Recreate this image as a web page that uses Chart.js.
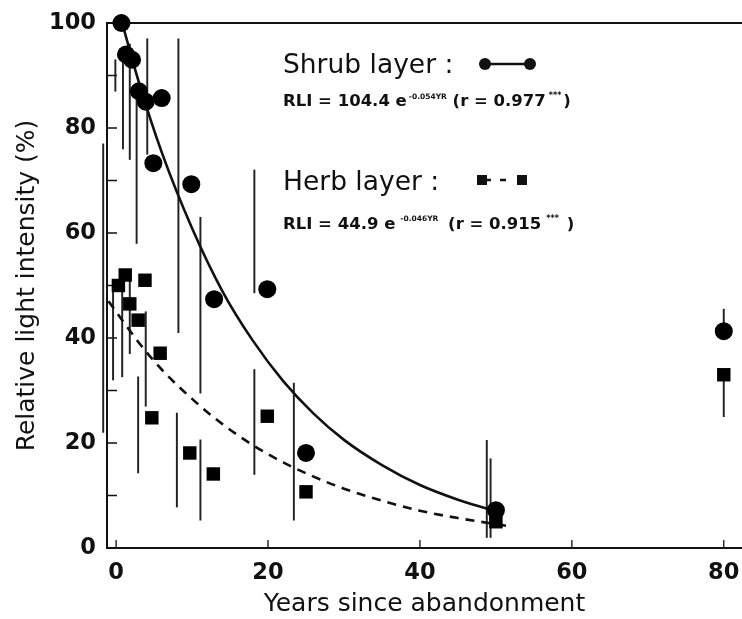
<!DOCTYPE html>
<html>
<head>
<meta charset="utf-8">
<script src="https://cdn.jsdelivr.net/npm/chart.js@4.4.1/dist/chart.umd.min.js"></script>
<style>
  html, body { margin: 0; padding: 0; background: #fff; }
</style>
</head>
<body>
<canvas id="chart" width="742" height="619"></canvas>
<script>
const shrubYears = [0.7, 1.3, 2.1, 3.0, 3.9, 4.9, 6.0, 9.9, 12.9, 19.9, 25, 50, 80];
const shrubRLI = [100, 94, 93, 87, 85, 73.3, 85.7, 69.3, 47.4, 49.3, 18.1, 7.2, 41.3];
const herbYears = [0.3, 1.2, 1.8, 2.9, 3.8, 4.7, 5.8, 9.7, 12.8, 19.9, 25, 50, 80];
const herbRLI = [50, 52, 46.5, 43.4, 51, 24.8, 37.1, 18.1, 14.1, 25.1, 10.7, 5, 33];

// fitted exponential curves
const shrubFitYears = [0.7, 3, 6, 10, 14, 18, 22, 26, 30, 35, 40, 45, 49];
const shrubFitRLI = [100.5, 88.7, 75.4, 60.9, 48.9, 39.5, 31.8, 25.6, 20.6, 15.8, 12.0, 9.2, 7.4];
const herbFitYears = [-1, 3, 6, 10, 14, 18, 22, 26, 30, 35, 40, 45, 52];
const herbFitRLI = [47.0, 39.1, 34.0, 28.4, 23.6, 19.6, 16.3, 13.6, 11.3, 9.0, 7.1, 5.7, 4.1];

// vertical range bars as they appear in the figure
const errYears = [-1.7, -0.1, 0.9, 1.8, 2.7, 4.1, 8.2, 11.1, 18.2, 23.4, 48.8, 49.3, 80, 80,
                  -0.4, 0.8, 1.8, 2.9, 3.9, 8.0, 11.1, 18.2];
const errLow = [22, 87, 76, 74, 58, 75, 41, 29.5, 48.6, 5.3, 2, 2, 41.3, 25,
                32, 32.6, 37, 14.3, 27, 7.8, 5.3, 14];
const errHigh = [77, 93, 95, 96, 86, 97, 97, 63, 72, 31.4, 20.5, 17, 45.5, 33,
                 51, 51, 51, 32.6, 45, 25.7, 20.6, 34];

const xTitle = 'Years since abandonment';
const yTitle = 'Relative light intensity (%)';

const toXY = (xs, ys) => xs.map((x, i) => ({ x, y: ys[i] }));

const FONT = '"DejaVu Sans", "Liberation Sans", Arial, sans-serif';

function drawRuns(ctx, x, y, runs) {
  for (const r of runs) {
    ctx.font = (r.bold ? 'bold ' : '') + r.size + 'px ' + FONT;
    ctx.fillText(r.text, x, y + (r.dy || 0));
    x += ctx.measureText(r.text).width + (r.gap || 0);
  }
}

const decorations = {
  id: 'decorations',
  beforeDatasetsDraw(chart) {
    const { ctx, chartArea: a, scales } = chart;
    ctx.save();
    ctx.strokeStyle = '#111';
    ctx.lineWidth = 2;
    ctx.beginPath();
    ctx.moveTo(a.left, a.top);
    ctx.lineTo(a.right, a.top);
    ctx.stroke();
    // inward tick marks
    ctx.lineWidth = 1.3;
    ctx.beginPath();
    scales.y.ticks.forEach(t => {
      const py = scales.y.getPixelForValue(t.value);
      ctx.moveTo(a.left, py);
      ctx.lineTo(a.left + 10, py);
    });
    scales.x.ticks.forEach(t => {
      const px = scales.x.getPixelForValue(t.value);
      ctx.moveTo(px, a.bottom);
      ctx.lineTo(px, a.bottom - 8);
    });
    ctx.stroke();
    ctx.restore();
  },
  afterDraw(chart) {
    const { ctx } = chart;
    ctx.save();
    ctx.fillStyle = '#111';
    ctx.strokeStyle = '#111';
    ctx.textBaseline = 'alphabetic';
    ctx.textAlign = 'left';

    // shrub layer key
    drawRuns(ctx, 283, 73, [{ text: 'Shrub layer :', size: 26.5 }]);
    ctx.lineWidth = 2.5;
    ctx.beginPath();
    ctx.moveTo(485, 64);
    ctx.lineTo(530, 64);
    ctx.stroke();
    [485, 530].forEach(cx => {
      ctx.beginPath();
      ctx.arc(cx, 64, 6, 0, Math.PI * 2);
      ctx.fill();
    });
    drawRuns(ctx, 283, 106, [
      { text: 'RLI = 104.4 e', size: 16.5, bold: true, gap: 2 },
      { text: '-0.054YR', size: 7.5, bold: true, dy: -7 },
      { text: ' (r = 0.977', size: 16.5, bold: true, gap: 3 },
      { text: '***', size: 8, bold: true, dy: -8, gap: 2 },
      { text: ')', size: 16.5, bold: true }
    ]);

    // herb layer key
    drawRuns(ctx, 283, 190, [{ text: 'Herb layer :', size: 26.5 }]);
    ctx.fillRect(477, 175, 10, 10);
    ctx.fillRect(517, 175, 10, 10);
    ctx.lineWidth = 2.5;
    ctx.beginPath();
    ctx.moveTo(487, 180);
    ctx.lineTo(491, 180);
    ctx.moveTo(500, 180);
    ctx.lineTo(506, 180);
    ctx.stroke();
    drawRuns(ctx, 283, 229, [
      { text: 'RLI = 44.9 e', size: 16.5, bold: true, gap: 5 },
      { text: '-0.046YR', size: 7.5, bold: true, dy: -8, gap: 4 },
      { text: ' (r = 0.915', size: 16.5, bold: true, gap: 5 },
      { text: '***', size: 8, bold: true, dy: -8, gap: 8 },
      { text: ')', size: 16.5, bold: true }
    ]);
    ctx.restore();
  }
};

new Chart(document.getElementById('chart'), {
  type: 'scatter',
  data: {
    datasets: [
      {
        type: 'bar',
        label: 'range',
        data: toXY(errYears, errYears.map((_, i) => [errLow[i], errHigh[i]])),
        backgroundColor: '#222',
        borderWidth: 0,
        barThickness: 1.3,
        grouped: false,
        clip: false,
        order: 5
      },
      {
        type: 'line',
        label: 'Shrub fit',
        data: toXY(shrubFitYears, shrubFitRLI),
        borderColor: '#111',
        borderWidth: 2.6,
        pointRadius: 0,
        cubicInterpolationMode: 'monotone',
        fill: false,
        order: 3
      },
      {
        type: 'line',
        label: 'Herb fit',
        data: toXY(herbFitYears, herbFitRLI),
        borderColor: '#111',
        borderWidth: 2.6,
        borderDash: [9, 7],
        pointRadius: 0,
        cubicInterpolationMode: 'monotone',
        fill: false,
        clip: false,
        order: 3
      },
      {
        label: 'Shrub layer',
        data: toXY(shrubYears, shrubRLI),
        pointStyle: 'circle',
        pointRadius: 9,
        backgroundColor: '#000',
        borderWidth: 0,
        clip: false,
        order: 1
      },
      {
        label: 'Herb layer',
        data: toXY(herbYears, herbRLI),
        pointStyle: 'rect',
        pointRadius: 9.5,
        backgroundColor: '#000',
        borderWidth: 0,
        clip: false,
        order: 1
      }
    ]
  },
  options: {
    responsive: false,
    animation: false,
    events: [],
    layout: { autoPadding: false, padding: { top: 23, right: 0, bottom: 0, left: 0 } },
    plugins: {
      legend: { display: false },
      tooltip: { enabled: false }
    },
    scales: {
      x: {
        type: 'linear',
        min: -1.2,
        max: 82.4,
        offset: false,
        grid: { display: false, offset: false },
        border: { display: true, color: '#111', width: 2 },
        ticks: {
          stepSize: 20,
          includeBounds: false,
          autoSkip: false,
          maxRotation: 0,
          padding: 4,
          color: '#111',
          font: { family: FONT, size: 22.5, weight: 'bold' }
        },
        title: {
          display: true,
          text: xTitle,
          color: '#111',
          padding: { top: 0, bottom: 0 },
          font: { family: FONT, size: 25 }
        },
        afterFit(scale) {
          scale.height = 71;
          scale.paddingLeft = 0;
          scale.paddingRight = 0;
        }
      },
      y: {
        type: 'linear',
        min: 0,
        max: 100,
        grid: { display: false },
        border: { display: true, color: '#111', width: 2 },
        ticks: {
          stepSize: 10,
          autoSkip: false,
          padding: 3,
          color: '#111',
          font: { family: FONT, size: 22.5, weight: 'bold' },
          callback: v => (v % 20 === 0 ? v : '')
        },
        title: {
          display: true,
          text: yTitle,
          color: '#111',
          padding: { top: 12, bottom: 0 },
          font: { family: FONT, size: 25 }
        },
        afterFit(scale) {
          scale.width = 107;
          scale.paddingTop = 0;
          scale.paddingBottom = 0;
        }
      }
    }
  },
  plugins: [decorations]
});
</script>
</body>
</html>
